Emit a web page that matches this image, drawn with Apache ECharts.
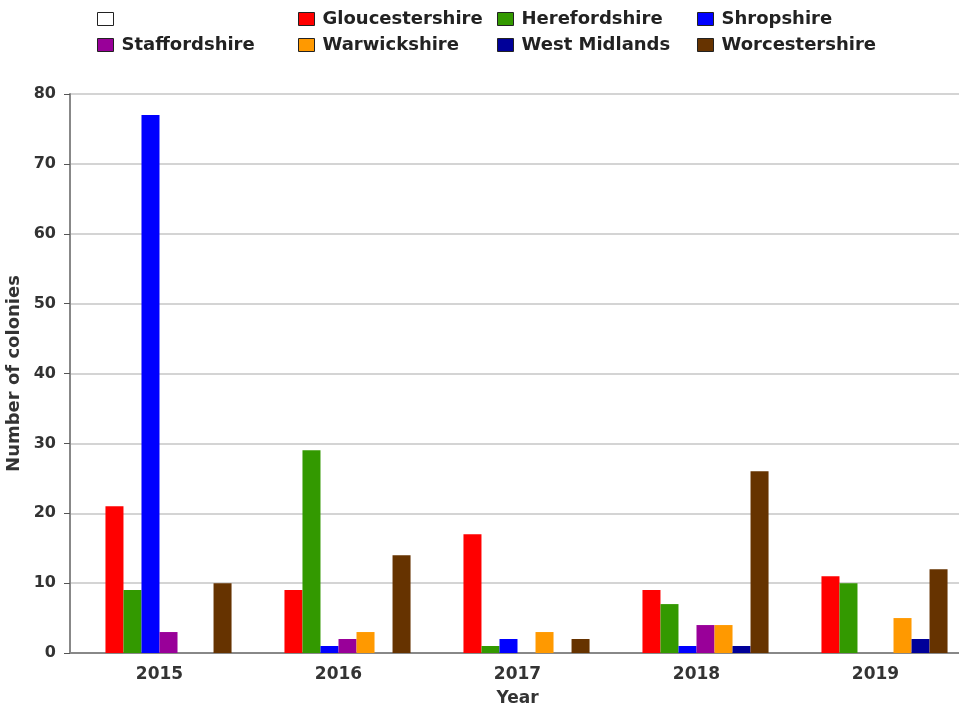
<!DOCTYPE html>
<html>
<head>
<meta charset="utf-8">
<script src="https://cdn.jsdelivr.net/npm/echarts@6/dist/echarts.min.js"></script>
<style>
  html, body { margin: 0; padding: 0; background: #fff; }
  #chart { width: 959px; height: 706px; }
</style>
</head>
<body>
<div id="chart"></div>
<script>
// years on the x axis
const years = ['2015', '2016', '2017', '2018', '2019'];

// colonies per county per year
const blank = [0, 0, 0, 0, 0];
const gloucestershire = [21, 9, 17, 9, 11];
const herefordshire = [9, 29, 1, 7, 10];
const shropshire = [77, 1, 2, 1, 0];
const staffordshire = [3, 2, 0, 4, 0];
const warwickshire = [0, 3, 3, 4, 5];
const westMidlands = [0, 0, 0, 1, 2];
const worcestershire = [10, 14, 2, 26, 12];

const yTicks = [0, 10, 20, 30, 40, 50, 60, 70, 80];

const font = 'DejaVu Sans';
const seriesList = [
    { name: ' ', data: blank, color: '#ffffff' },
    { name: 'Gloucestershire', data: gloucestershire, color: '#ff0000' },
    { name: 'Herefordshire', data: herefordshire, color: '#339900' },
    { name: 'Shropshire', data: shropshire, color: '#0000ff' },
    { name: 'Staffordshire', data: staffordshire, color: '#990099' },
    { name: 'Warwickshire', data: warwickshire, color: '#ff9900' },
    { name: 'West Midlands', data: westMidlands, color: '#000099' },
    { name: 'Worcestershire', data: worcestershire, color: '#663300' }
];

// legend is laid out as 4 columns of 2 rows
const legendCols = [
    [' ', 'Staffordshire'],
    ['Gloucestershire', 'Warwickshire'],
    ['Herefordshire', 'West Midlands'],
    ['Shropshire', 'Worcestershire']
];
const colLeft = [97, 298, 497, 697];

const chart = echarts.init(document.getElementById('chart'));
chart.setOption({
    animation: false,
    textStyle: { fontFamily: font },
    legend: legendCols.map((names, i) => ({
        data: names,
        orient: 'vertical',
        left: colLeft[i],
        top: 10,
        padding: 0,
        itemGap: 8,
        itemWidth: 16,
        itemHeight: 13,
        icon: 'rect',
        selectedMode: false,
        itemStyle: { borderColor: '#222', borderWidth: 1 },
        textStyle: { fontFamily: font, fontWeight: 'bold', fontSize: 18, color: '#222', padding: [0, 0, 0, 3] }
    })),
    grid: {
        left: 70, top: 94, bottom: 53, width: 895,
        outerBoundsMode: 'none',
        show: true, borderColor: '#888', borderWidth: 1
    },
    xAxis: {
        type: 'category',
        data: years,
        name: 'Year',
        nameLocation: 'middle',
        nameGap: 37,
        nameTextStyle: { fontFamily: font, fontWeight: 'bold', fontSize: 17, color: '#333' },
        axisLine: { lineStyle: { color: '#888', width: 2 } },
        axisTick: { alignWithLabel: true, length: 6, lineStyle: { color: '#555' } },
        axisLabel: { fontFamily: font, fontWeight: 'bold', fontSize: 17, color: '#333', margin: 13 }
    },
    yAxis: {
        type: 'value',
        min: yTicks[0],
        max: yTicks[yTicks.length - 1],
        interval: 10,
        name: 'Number of colonies',
        nameLocation: 'middle',
        nameGap: 41,
        nameTextStyle: { fontFamily: font, fontWeight: 'bold', fontSize: 18, color: '#333' },
        axisLine: { show: true, lineStyle: { color: '#888', width: 2 } },
        axisTick: { show: true, length: 6, lineStyle: { color: '#555' } },
        axisLabel: { fontFamily: font, fontWeight: 'bold', fontSize: 16, color: '#333', margin: 14 },
        splitLine: { lineStyle: { color: '#d4d4d4', width: 2 } }
    },
    series: seriesList.map(s => ({
        name: s.name,
        type: 'bar',
        data: s.data,
        barGap: '0%',
        barCategoryGap: '19.5%',
        itemStyle: { color: s.color },
        emphasis: { disabled: true }
    }))
});
</script>
</body>
</html>
